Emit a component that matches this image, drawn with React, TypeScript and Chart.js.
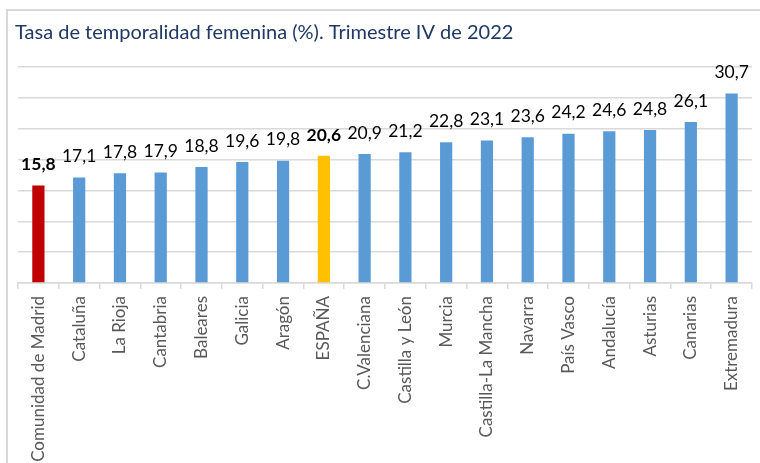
import React, { useEffect, useRef } from "react";
import { Chart, registerables } from "chart.js";

Chart.register(...registerables);

const TITLE = "Tasa de temporalidad femenina (%). Trimestre IV de 2022";
const categories = [
  "Comunidad de Madrid", "Cataluña", "La Rioja", "Cantabria", "Baleares", "Galicia",
  "Aragón", "ESPAÑA", "C.Valenciana", "Castilla y León", "Murcia", "Castilla-La Mancha",
  "Navarra", "País Vasco", "Andalucía", "Asturias", "Canarias", "Extremadura",
];
const values = [15.8, 17.1, 17.8, 17.9, 18.8, 19.6, 19.8, 20.6, 20.9, 21.2, 22.8, 23.1, 23.6, 24.2, 24.6, 24.8, 26.1, 30.7];
const highlightRed = ["Comunidad de Madrid"];
const highlightGold = ["ESPAÑA"];
const boldLabels = ["Comunidad de Madrid", "ESPAÑA"];

const FONT = "Lato";

export default function App() {
  const ref = useRef<HTMLCanvasElement | null>(null);
  useEffect(() => {
    if (!ref.current) return;
    const colors = categories.map((c) =>
      highlightRed.includes(c) ? "#c00000" : highlightGold.includes(c) ? "#ffc000" : "#5b9bd5"
    );
    const overlay = {
      id: "overlay",
      afterDraw(chart: any) {
        const ctx = chart.ctx;
        ctx.save();
        ctx.fillStyle = "#1f3864";
        ctx.font = `20px ${FONT}`;
        ctx.textBaseline = "middle";
        ctx.textAlign = "left";
        ctx.fillText(TITLE, 15, 33);
        const meta = chart.getDatasetMeta(0);
        ctx.textAlign = "center";
        meta.data.forEach((bar: any, i: number) => {
          const bold = boldLabels.includes(categories[i]);
          ctx.font = `${bold ? "bold " : ""}17.5px ${FONT}`;
          ctx.fillStyle = "#000000";
          ctx.fillText(values[i].toFixed(1).replace(".", ","), bar.x, bar.y - 21);
        });
        ctx.restore();
      },
    };
    const chart = new Chart(ref.current, {
      type: "bar",
      data: {
        labels: categories,
        datasets: [{ data: values, backgroundColor: colors, barPercentage: 0.3, categoryPercentage: 1 }],
      },
      options: {
        animation: false,
        responsive: false,
        maintainAspectRatio: false,
        layout: { padding: { left: 18, right: 8, top: 67, bottom: 0 } },
        plugins: { legend: { display: false }, tooltip: { enabled: false }, title: { display: false } },
        scales: {
          x: {
            afterFit: (s: any) => { s.height = 180; },
            grid: { display: true, drawOnChartArea: false, drawTicks: true, tickLength: 6, color: "#d9d9d9", lineWidth: 1.5, offset: true },
            border: { display: true, color: "#d9d9d9", width: 1.5 },
            ticks: {
              minRotation: 90, maxRotation: 90, autoSkip: false, padding: 7,
              color: "#595959", font: { family: FONT, size: 17 },
            },
          },
          y: {
            min: 0, max: 35,
            afterFit: (s: any) => { s.width = 0; },
            ticks: { display: false, stepSize: 5 },
            border: { display: false },
            grid: { color: "#d9d9d9", lineWidth: 1.5, drawTicks: false },
          },
        },
      },
      plugins: [overlay],
    });
    return () => chart.destroy();
  }, []);
  return (
    <div style={{ position: "absolute", left: 0, top: 0, width: 760, height: 463, overflow: "hidden", background: "#fff" }}>
      <div style={{ position: "absolute", left: 6, top: 9, width: 800, height: 500, border: "2px solid #d9d9d9", boxSizing: "border-box" }} />
      <canvas ref={ref} width={760} height={463} style={{ position: "absolute", left: 0, top: 0 }} />
    </div>
  );
}
